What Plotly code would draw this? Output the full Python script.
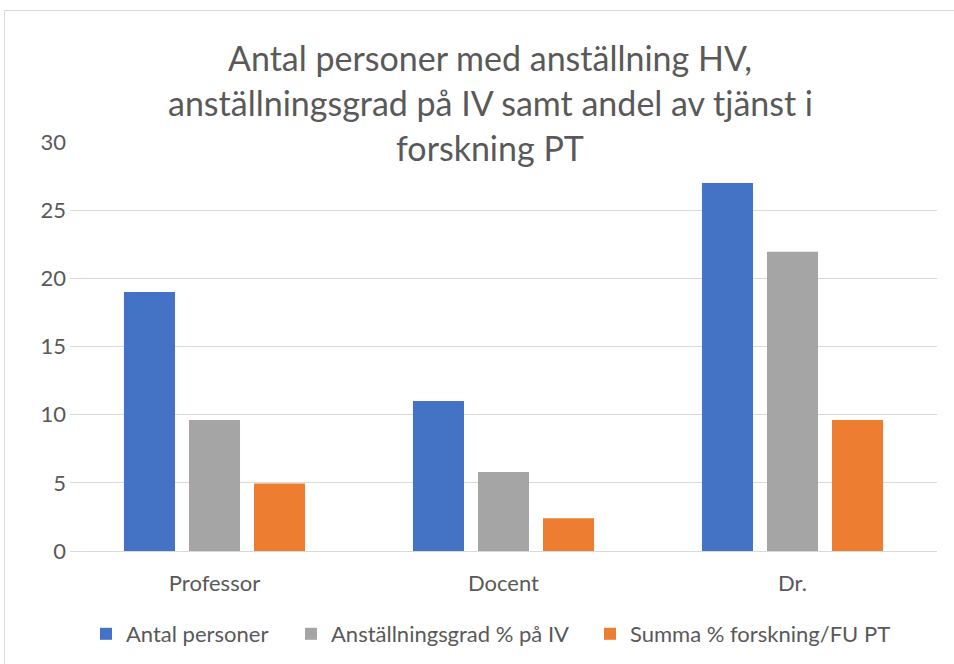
import plotly.graph_objects as go

categories = ["Professor", "Docent", "Dr."]
antal_personer = [19, 11, 27]
anstallningsgrad = [9.6, 5.8, 21.95]
summa_forskning = [4.95, 2.4, 9.6]
series_names = ["Antal personer", "Anställningsgrad % på IV", "Summa % forskning/FU PT"]
series_colors = ["#4472C4", "#A5A5A5", "#ED7D31"]
title_lines = ["Antal personer med anställning HV,",
               "anställningsgrad på IV samt andel av tjänst i",
               "forskning PT"]
y_ticks = [0, 5, 10, 15, 20, 25, 30]

FONT = "Lato, Carlito, Calibri, sans-serif"
TXT = "#595959"

W, H = 954, 664
L, R, T, B = 70, 17, 142, 113
PW = W - L - R
PH = H - T - B

def px_x(px):
    return (px - L) / PW

def px_y(py):
    return (H - B - py) / PH

fig = go.Figure()
legends = ["legend", "legend2", "legend3"]
for name, vals, col, lg in zip(series_names,
                               [antal_personer, anstallningsgrad, summa_forskning],
                               series_colors, legends):
    fig.add_trace(go.Bar(x=categories, y=vals, name=name,
                         marker=dict(color=col, line=dict(width=0)),
                         legend=lg, showlegend=True))

legend_left_px = [86, 291, 590]
leg_common = dict(orientation="h", yanchor="middle", y=px_y(634), xanchor="left",
                  font=dict(family=FONT, size=22, color=TXT),
                  bgcolor="rgba(0,0,0,0)", borderwidth=0, visible=True)

annotations = []
for txt, py, bg in zip(title_lines, [57, 102, 148], [None, None, "white"]):
    a = dict(text=txt, xref="paper", yref="paper", x=px_x(490), y=px_y(py),
             xanchor="center", yanchor="middle", showarrow=False,
             font=dict(family=FONT, size=34, color=TXT))
    if bg:
        a["bgcolor"] = bg
        a["borderpad"] = 3
    annotations.append(a)

fig.update_layout(
    width=W, height=H,
    margin=dict(l=L, r=R, t=T, b=B, autoexpand=False),
    paper_bgcolor="white", plot_bgcolor="white",
    barmode="group", bargap=0.325, bargroupgap=0.215,
    showlegend=True,
    font=dict(family=FONT, color=TXT),
    legend=dict(x=px_x(legend_left_px[0]), **leg_common),
    legend2=dict(x=px_x(legend_left_px[1]), **leg_common),
    legend3=dict(x=px_x(legend_left_px[2]), **leg_common),
    annotations=annotations,
    shapes=[dict(type="rect", xref="paper", yref="paper",
                 x0=px_x(4.5), x1=px_x(975), y0=px_y(690), y1=px_y(10.5),
                 line=dict(color="#D9D9D9", width=1), fillcolor="rgba(0,0,0,0)",
                 layer="below")],
    xaxis=dict(showgrid=False, showline=False, zeroline=False, ticks="",
               tickfont=dict(family=FONT, size=22, color=TXT),
               ticklabelstandoff=17, fixedrange=True),
    yaxis=dict(range=[0, 30], tickvals=y_ticks, showgrid=True,
               gridcolor="#D9D9D9", gridwidth=1, zeroline=True,
               zerolinecolor="#D9D9D9", zerolinewidth=1, showline=False,
               ticks="", tickfont=dict(family=FONT, size=22, color=TXT),
               ticklabelstandoff=3, fixedrange=True),
)

fig.write_html("out.html",
               config={"displayModeBar": False},
               post_script="document.body.style.margin='0';document.body.style.overflow='hidden';")
